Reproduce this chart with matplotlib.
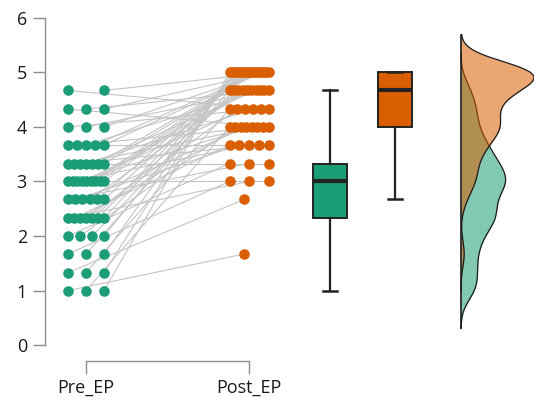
import numpy as np
import matplotlib
matplotlib.use("Agg")
import matplotlib.pyplot as plt

# ---- data (paired observations, subject order) ----
pre_ep = [1.00, 1.00, 1.00,
          1.33, 1.33, 1.33,
          1.67, 1.67, 1.67,
          2.00, 2.00, 2.00, 2.00,
          2.33, 2.33, 2.33, 2.33, 2.33, 2.33, 2.33,
          2.67, 2.67, 2.67, 2.67, 2.67, 2.67,
          3.00, 3.00, 3.00, 3.00, 3.00, 3.00, 3.00, 3.00, 3.00,
          3.33, 3.33, 3.33, 3.33, 3.33, 3.33, 3.33,
          3.67, 3.67, 3.67, 3.67, 3.67,
          4.00, 4.00, 4.00,
          4.33, 4.33, 4.33,
          4.67, 4.67]
post_ep = [1.67, 4.00, 5.00,
           2.67, 4.33, 5.00,
           3.00, 4.67, 5.00,
           3.33, 4.00, 4.67, 5.00,
           3.00, 3.67, 4.00, 4.33, 4.67, 5.00, 5.00,
           3.33, 3.67, 4.00, 4.67, 5.00, 5.00,
           3.00, 3.67, 4.00, 4.33, 4.67, 4.67, 5.00, 5.00, 5.00,
           3.33, 3.67, 4.00, 4.33, 4.67, 5.00, 5.00,
           3.67, 4.00, 4.67, 5.00, 5.00,
           4.33, 4.67, 5.00,
           4.00, 4.67, 5.00,
           4.33, 5.00]
categories = ["Pre_EP", "Post_EP"]
y_ticks = [0, 1, 2, 3, 4, 5, 6]

GREEN = "#1b9e77"
ORANGE = "#d95f02"

pre = np.array(pre_ep)
post = np.array(post_ep)


def spread(vals, width=0.11):
    """Deterministic horizontal spread of tied values around 0."""
    off = np.zeros(len(vals))
    for v in np.unique(vals):
        idx = np.where(vals == v)[0]
        k = len(idx)
        if k == 1:
            off[idx] = -0.03
        else:
            off[idx] = np.linspace(-width, width, k)
    return off


fig = plt.figure(figsize=(5.34, 4.0), dpi=100)
ax = fig.add_axes([45 / 534, 1 - 360.7 / 400, 1 - 45 / 534, 360.7 / 400])

x_pre = 1 + spread(pre)
x_post = 2 + spread(post, 0.12)

# connecting lines
for a, b, c, d in zip(x_pre, pre, x_post, post):
    ax.plot([a, c], [b, d], color="#c4c4c4", lw=0.8, zorder=1)

ax.scatter(x_pre, pre, s=58, color=GREEN, zorder=3, linewidths=0)
ax.scatter(x_post, post, s=58, color=ORANGE, zorder=3, linewidths=0)

# boxplots
bp = ax.boxplot([pre, post], positions=[2.497, 2.896], widths=0.21,
                whis=1.5, showfliers=False, patch_artist=True,
                medianprops=dict(color="#222222", lw=3),
                whiskerprops=dict(color="#222222", lw=1.6),
                capprops=dict(color="#222222", lw=1.8),
                boxprops=dict(edgecolor="#222222", lw=1.4),
                capwidths=0.09, manage_ticks=False)
for patch, col in zip(bp["boxes"], [GREEN, ORANGE]):
    patch.set_facecolor(col)


# densities (Gaussian KDE, reduced nrd0 bandwidth, cut = 3 bw)
def kde(v, adjust=0.77):
    n = len(v)
    sd = v.std(ddof=1)
    iqr = np.subtract(*np.percentile(v, [75, 25]))
    bw = adjust * 0.9 * min(sd, iqr / 1.34) * n ** (-0.2)
    grid = np.linspace(v.min() - 3 * bw, v.max() + 3 * bw, 400)
    dens = np.exp(-0.5 * ((grid[:, None] - v[None, :]) / bw) ** 2).sum(1)
    dens /= n * bw * np.sqrt(2 * np.pi)
    return grid, dens


base = 3.30
g1, d1 = kde(pre)
g2, d2 = kde(post)
scale = 0.448 / max(d1.max(), d2.max())
for g, d, col in [(g1, d1, GREEN), (g2, d2, ORANGE)]:
    ax.fill_betweenx(g, base, base + d * scale, color=col, alpha=0.55,
                     lw=0, zorder=2)
    ax.plot(base + d * scale, g, color="#1a1a1a", lw=0.9, zorder=2)
ymin = min(g1.min(), g2.min())
ymax = max(g1.max(), g2.max())
ax.plot([base, base], [ymin, ymax], color="#1a1a1a", lw=1.2, zorder=2)

# axes styling
ax.set_xlim(0.748, 3.748)
ax.set_ylim(-0.288, 6.33)
for s in ["top", "right"]:
    ax.spines[s].set_visible(False)
ax.spines["left"].set_bounds(0, 6)
ax.spines["bottom"].set_bounds(1, 2)
for s in ["left", "bottom"]:
    ax.spines[s].set_color("#8c8c8c")
    ax.spines[s].set_linewidth(1.0)
ax.set_yticks(y_ticks)
ax.set_yticklabels([str(t) for t in y_ticks])
ax.set_xticks([1, 2])
ax.set_xticklabels(categories)
ax.tick_params(axis="both", colors="#8c8c8c", length=9, width=1.0,
               labelsize=13, labelcolor="#1a1a1a", pad=4)
for lab in ax.get_xticklabels() + ax.get_yticklabels():
    lab.set_fontfamily("Open Sans")
ax.patch.set_alpha(0)

fig.savefig("out.png", dpi=100)
